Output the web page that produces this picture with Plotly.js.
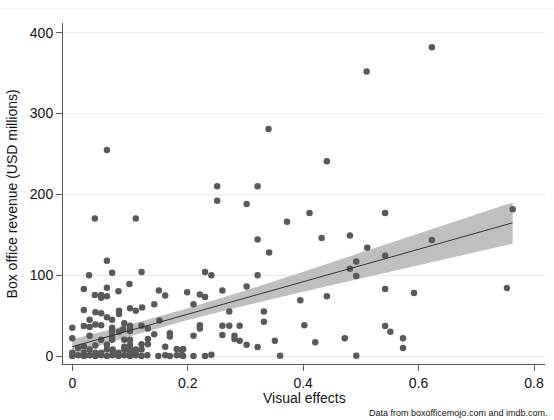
<!DOCTYPE html>
<html>
<head>
<meta charset="utf-8">
<script src="https://cdn.plot.ly/plotly-3.0.1.min.js"></script>
<style>html,body{margin:0;padding:0;background:#fff;}#chart{width:554px;height:420px;}</style>
</head>
<body>
<div id="chart"></div>
<script>
// Scatter: visual effects share vs box office revenue (USD millions)
const visualEffects = [
  0.623,0.51,0.34,0.441,0.06,
  0.251,0.321,0.251,0.302,0.411,0.542,0.372,0.039,0.11,
  0.432,0.481,0.321,0.623,0.511,0.341,0.542,0.492,0.481,0.492,0.763,0.753,
  0.23,0.241,0.321,0.12,0.069,0.029,0.06,
  0.302,0.26,0.199,0.221,0.23,0.15,0.161,0.099,0.08,0.06,0.02,0.039,0.05,0.05,0.06,
  0.395,0.441,0.542,0.592,
  0.21,0.142,0.121,0.1,0.11,0.081,0.081,0.02,0.04,0.05,0.06,0.069,0.03,
  0.272,0.332,0.332,0.402,0.421,0.472,0.492,0.542,0.551,0.573,0.573,
  0.221,0.221,0.26,0.272,0.29,0.21,0.26,0.281,0.281,0.29,0.302,0.321,0.351,0.36,0.23,0.241,0.19,0.19,
  0.151,0.1,0.1,0.1,0.12,0.131,0.169,0.169,0.142,0.131,0.12,0.131,0.161,0.181,0.192,
  0,0,0.02,0.03,0.03,0.04,0.05,0.09,0.081,0.069,0.069,0.069,0.069,0.088,0.09,0.09,0.05,0.06,0.04,0.02,0.03,0.01,
  0.1,0.1,0.11,
  0,0.01,0.02,0.03,0.04,0.05,0.06,0.07,0.08,0.09,0.1,0.11,0.12,0.13,0.149,0.161,0.169,0.181,0.192,0.21,
  0,0.02,0.04,0.05,0.07,0.08,0.1,0.11,
  0.06,0.07,0.09,0.1,0.12
];
const boxOffice = [
  382,352,281,241,255,
  210,210,192,188,177,177,166,170,170,
  146,149,144,143.6,134,128,124,117,108,99,181.5,84,
  104,100,100,104,103,100,118,
  86,81,79,76,73,81,75,89,80,84.5,83,75.5,75.5,72,74,
  69,74,83,78,
  64,64,60,59,56,56,52,57,54,53,48,45,45,
  55,55,42.5,38,17,22,0.4,37,30,22,10,
  38,34,37.5,37.5,37.5,25,26,25,21,19,14,11,19,0.4,0,1.6,7.4,1,
  44,37.5,34,31,37.5,34,28,24,27,21,14.5,14.5,11.5,8.7,8.7,
  35,22,37,36,25,39,38,40.5,30,35,31,25,20,33,20,11.5,20,14,13,12,8,10,
  14,20,8,
  0,1,0,1,0,1,0,1,0,1,0,1,0,1,0,1,0,1,0,0,
  4,4,4,4,4,4,4,4,
  8,8,8,8,8
];
// Linear fit and 95% CI
const fitX = [0, 0.763];
const fitY = [11.5, 164.8];
const ciX  = [0, 0.1, 0.2, 0.3, 0.4, 0.5, 0.6, 0.763];
const ciLo = [2.2, 24.3, 44.4, 62.5, 79.5, 96, 112.4, 139];
const ciHi = [20.8, 38.9, 59.0, 81.1, 104.3, 128, 151.8, 190];
const yTicks = [0, 100, 200, 300, 400];
const xTicks = [0, 0.2, 0.4, 0.6, 0.8];
const xTickText = ['0', '0.2', '0.4', '0.6', '0.8'];

const FONT = 'Liberation Sans, Arial, Helvetica, sans-serif';
const AX = '#5a5a5a';

const traces = [
  {x: ciX, y: ciLo, type: 'scatter', mode: 'lines', line: {width: 0, color: 'rgba(0,0,0,0)'}, hoverinfo: 'skip'},
  {x: ciX, y: ciHi, type: 'scatter', mode: 'lines', line: {width: 0, color: 'rgba(0,0,0,0)'}, fill: 'tonexty', fillcolor: '#bfbfbf', hoverinfo: 'skip'},
  {x: visualEffects, y: boxOffice, type: 'scatter', mode: 'markers', marker: {size: 6.5, color: '#595959'}},
  {x: fitX, y: fitY, type: 'scatter', mode: 'lines', line: {width: 1, color: '#333333'}}
];

const layout = {
  width: 554, height: 420,
  margin: {l: 63, r: 9, t: 23, b: 56, pad: 0},
  paper_bgcolor: '#ffffff', plot_bgcolor: '#ffffff',
  showlegend: false, hovermode: false,
  font: {family: FONT, size: 14, color: '#111'},
  xaxis: {
    range: [-0.0161, 0.819], tickvals: xTicks, ticktext: xTickText,
    showgrid: false, zeroline: false, showline: true, linecolor: AX, linewidth: 1,
    ticks: 'outside', ticklen: 6, tickcolor: AX, tickwidth: 1,
    tickfont: {family: FONT, size: 14, color: '#111'}, automargin: false
  },
  yaxis: {
    range: [-9.9, 412], tickvals: yTicks,
    showgrid: true, gridcolor: '#ececec', gridwidth: 1, zeroline: false,
    showline: true, linecolor: AX, linewidth: 1,
    ticks: 'outside', ticklen: 6, tickcolor: AX, tickwidth: 1,
    tickfont: {family: FONT, size: 14, color: '#111'}, automargin: false
  },
  shapes: [
    {type: 'line', xref: 'paper', yref: 'paper', x0: -63/482, x1: 1 + 9/482, y0: 1.0416, y1: 1.0416, line: {color: '#f0f0f0', width: 1}}
  ],
  annotations: [
    {text: 'Box office revenue (USD millions)', textangle: -90, xref: 'paper', yref: 'paper', x: -0.106, y: 0.5, xanchor: 'center', yanchor: 'middle', showarrow: false, font: {family: FONT, size: 14, color: '#111'}},
    {text: 'Visual effects', xref: 'paper', yref: 'paper', x: 0.5, y: -0.0997, xanchor: 'center', yanchor: 'middle', showarrow: false, font: {family: FONT, size: 14, color: '#111'}},
    {text: 'Data from boxofficemojo.com and imdb.com.', xref: 'paper', yref: 'paper', x: 1.008, y: -0.143, xanchor: 'right', yanchor: 'middle', showarrow: false, font: {family: FONT, size: 9, color: '#111'}}
  ]
};

Plotly.newPlot('chart', traces, layout, {displayModeBar: false, staticPlot: true});
</script>
</body>
</html>
